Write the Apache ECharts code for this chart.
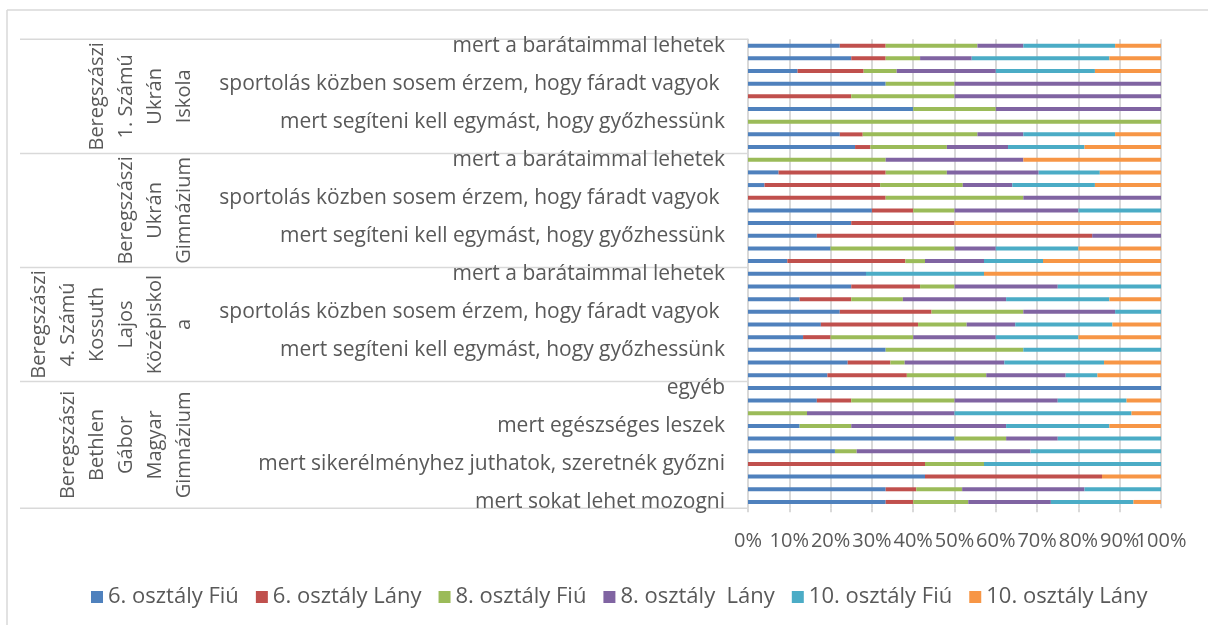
<!DOCTYPE html>
<html>
<head>
<meta charset="utf-8">
<script src="https://cdn.jsdelivr.net/npm/echarts@6/dist/echarts.min.js"></script>
<style>
    html, body { margin: 0; padding: 0; background: #fff; }
    #chart { width: 1208px; height: 625px; }
</style>
</head>
<body>
<div id="chart"></div>
<script>
// schools, listed bottom to top (same order as the category axis)
const schools = [
    'Beregszászi\nBethlen\nGábor\nMagyar\nGimnázium',
    'Beregszászi\n4. Számú\nKossuth\nLajos\nKözépiskol\na',
    'Beregszászi\nUkrán\nGimnázium',
    'Beregszászi\n1. Számú\nUkrán\nIskola'
];
const groupSizes = [10, 9, 9, 9];
// reasons inside each school, bottom to top
const reasons = [
    'mert sokat lehet mozogni',
    'mert szeretek versenyezni',
    'mert segíteni kell egymást, hogy győzhessünk',
    'mert sikerélményhez juthatok, szeretnék győzni',
    'mert jól érzem magam',
    'sportolás közben sosem érzem, hogy fáradt vagyok ',
    'mert egészséges leszek',
    'mert szeretem a csapatjátékot',
    'mert a barátaimmal lehetek',
    'egyéb'
];
const seriesNames = ['6. osztály Fiú', '6. osztály Lány', '8. osztály Fiú', '8. osztály  Lány', '10. osztály Fiú', '10. osztály Lány'];
const colors = ['#4F81BD', '#C0504D', '#9BBB59', '#8064A2', '#4BACC6', '#F79646'];
const xTicks = [0, 10, 20, 30, 40, 50, 60, 70, 80, 90, 100];

// answer counts per row (index 0 = bottom row)
const fiu6   = [5, 9, 3, 0, 4, 4, 1, 0, 2, 1,  5, 7, 1, 2, 3, 2, 1, 3, 2,  2, 2, 1, 1, 3, 0, 1, 2, 0,  7, 4, 0, 2, 0, 2, 3, 6, 2];
const lany6  = [1, 2, 3, 3, 0, 0, 0, 0, 1, 0,  5, 3, 0, 1, 4, 2, 1, 2, 0,  6, 0, 4, 1, 1, 1, 7, 7, 0,  1, 1, 0, 0, 1, 0, 4, 2, 1];
const fiu8   = [2, 3, 0, 1, 1, 1, 1, 2, 3, 0,  5, 1, 1, 3, 2, 2, 1, 1, 0,  1, 3, 0, 0, 1, 1, 5, 4, 1,  5, 5, 1, 1, 1, 1, 2, 2, 2];
const lany8  = [3, 8, 0, 0, 8, 1, 3, 5, 3, 0,  5, 7, 0, 3, 2, 2, 2, 3, 0,  3, 1, 1, 0, 3, 1, 3, 6, 1,  4, 2, 0, 2, 2, 3, 6, 3, 1];
const fiu10  = [3, 5, 0, 3, 6, 2, 2, 6, 2, 0,  2, 7, 1, 3, 4, 1, 2, 3, 2,  3, 2, 0, 0, 2, 0, 5, 4, 0,  5, 4, 0, 0, 0, 0, 6, 8, 2];
const lany10 = [1, 0, 1, 0, 0, 0, 1, 1, 1, 0,  4, 4, 0, 3, 2, 0, 1, 0, 3,  6, 2, 0, 2, 0, 0, 4, 4, 1,  5, 2, 0, 0, 0, 0, 4, 3, 1];
const counts = [fiu6, lany6, fiu8, lany8, fiu10, lany10];

let categories = [];
groupSizes.forEach(function (n) {
    for (let i = 0; i < n; i++) categories.push(reasons[i]);
});

// 100% stacked: share of each row
let totals = categories.map(function (c, i) {
    return counts.reduce(function (s, arr) { return s + arr[i]; }, 0);
});

const font = '"Open Sans", "Noto Sans", sans-serif';
const textColor = '#595959';
const lineColor = '#d9d9d9';
const xMin = xTicks[0];
const xMax = xTicks[xTicks.length - 1];

let xLabel = {
    fontSize: 20,
    color: textColor,
    margin: 23
};

let chart = echarts.init(document.getElementById('chart'));
let option = {
    animation: false,
    color: colors,
    textStyle: { fontFamily: font },
    grid: { left: 748, right: 47, top: 39.3, bottom: 116.7, containLabel: false },
    legend: {
        bottom: 12,
        left: 86,
        icon: 'rect',
        itemWidth: 12,
        itemHeight: 12,
        itemGap: 17,
        selectedMode: false,
        textStyle: { fontSize: 22, color: textColor, fontFamily: font },
        data: seriesNames
    },
    xAxis: [{
        type: 'value',
        min: xMin,
        max: xMax,
        interval: 10,
        axisLine: { show: false },
        axisTick: { show: true, length: 4, lineStyle: { color: lineColor, width: 2 } },
        splitLine: { lineStyle: { color: lineColor, width: 2 } },
        // 100% is drawn by the second axis so that 90% is not dropped for overlapping it
        axisLabel: Object.assign({ formatter: '{value}%', showMinLabel: true, showMaxLabel: false }, xLabel)
    }, {
        type: 'value',
        position: 'bottom',
        min: xMin,
        max: xMax,
        interval: 10,
        axisLine: { show: false },
        axisTick: { show: false },
        splitLine: { show: false },
        axisLabel: Object.assign({
            formatter: function (v) { return v === xMax ? v + '%' : ''; }
        }, xLabel)
    }],
    yAxis: {
        type: 'category',
        data: categories,
        axisLine: { show: true, lineStyle: { color: lineColor, width: 1.5 } },
        axisTick: { show: false },
        splitLine: { show: false },
        axisLabel: {
            interval: 2,
            fontSize: 21,
            color: textColor,
            margin: 23
        }
    },
    series: counts.map(function (arr, k) {
        return {
            name: seriesNames[k],
            type: 'bar',
            stack: 'total',
            barWidth: 4,
            emphasis: { disabled: true },
            data: arr.map(function (v, i) { return totals[i] ? v / totals[i] * 100 : 0; })
        };
    })
};
chart.setOption(option);

// school groups: separator lines and rotated names, placed through the category axis
function pixY(v) { return chart.convertToPixel({ yAxisIndex: 0 }, v); }
let band = Math.abs(pixY(0) - pixY(1));
let axisX = chart.convertToPixel({ xAxisIndex: 0 }, 0);
let graphics = [
    { type: 'line', shape: { x1: 7, y1: 10, x2: 1208, y2: 10 }, style: { stroke: lineColor, lineWidth: 1.5 } },
    { type: 'line', shape: { x1: 7, y1: 10, x2: 7, y2: 625 }, style: { stroke: lineColor, lineWidth: 1.5 } }
];
let start = 0;
groupSizes.forEach(function (n, g) {
    let yBottom = pixY(start) + band / 2;
    let yTop = pixY(start + n - 1) - band / 2;
    if (g === 0) {
        graphics.push({ type: 'line', shape: { x1: 20, y1: yBottom, x2: axisX, y2: yBottom }, style: { stroke: lineColor, lineWidth: 1.5 } });
    }
    graphics.push({ type: 'line', shape: { x1: 20, y1: yTop, x2: axisX, y2: yTop }, style: { stroke: lineColor, lineWidth: 1.5 } });
    graphics.push({
        type: 'text',
        x: 198.5,
        y: (yTop + yBottom) / 2,
        rotation: Math.PI / 2,
        style: {
            text: schools[g],
            fontSize: 20,
            fontFamily: font,
            fill: textColor,
            lineHeight: 29,
            align: 'center',
            verticalAlign: 'bottom',
            textAlign: 'center',
            textVerticalAlign: 'bottom'
        }
    });
    start += n;
});
chart.setOption({ graphic: graphics });
</script>
</body>
</html>
